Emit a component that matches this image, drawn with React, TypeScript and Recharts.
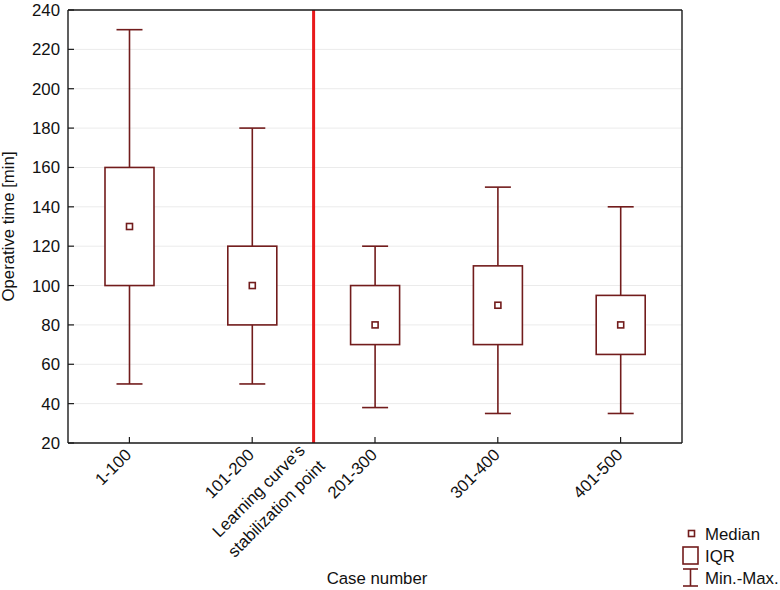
import React from "react"
import { ComposedChart, Bar, XAxis, YAxis, CartesianGrid, ReferenceLine } from "recharts"

// Operative time per block of 100 cases
const groups = ["1-100", "101-200", "201-300", "301-400", "401-500"]
const minimum = [50, 50, 38, 35, 35]
const lowerQuartile = [100, 80, 70, 70, 65]
const median = [130, 100, 80, 90, 80]
const upperQuartile = [160, 120, 100, 110, 95]
const maximum = [230, 180, 120, 150, 140]
const yTicks = [20, 40, 60, 80, 100, 120, 140, 160, 180, 200, 220, 240]
// the learning curve stabilises between the 2nd and 3rd block
const stabilizationPoint = 2.5
const stabilizationLabel = ["Learning curve's", "stabilization point"]

const data = groups.map((group, i) => ({
  group,
  pos: i + 1,
  min: minimum[i],
  q1: lowerQuartile[i],
  median: median[i],
  q3: upperQuartile[i],
  max: maximum[i],
}))

const BOX = "#721c1c"
const AXIS = "#1a1a1a"
const FONT = "'Liberation Sans', Arial, sans-serif"
const FS = 16.8

function BoxShape(props: any) {
  const { x, y, width, height, payload } = props
  const span = payload.max - payload.min
  const toY = (v: number) => y + (height * (payload.max - v)) / span
  const cx = x + width / 2
  const cap = 13
  return (
    <g stroke={BOX} strokeWidth={1.6} fill="none">
      <line x1={cx} x2={cx} y1={toY(payload.max)} y2={toY(payload.min)} />
      <line x1={cx - cap} x2={cx + cap} y1={toY(payload.max)} y2={toY(payload.max)} />
      <line x1={cx - cap} x2={cx + cap} y1={toY(payload.min)} y2={toY(payload.min)} />
      <rect x={x} y={toY(payload.q3)} width={width} height={toY(payload.q1) - toY(payload.q3)} fill="#fff" />
      <rect x={cx - 3} y={toY(payload.median) - 3} width={6} height={6} fill="#fff" />
    </g>
  )
}

function GroupTick(props: any) {
  const { x, y, payload } = props
  return (
    <text
      transform={`translate(${x + 3},${y + 13}) rotate(-45)`}
      textAnchor="end"
      fontSize={FS}
      fontFamily={FONT}
      fill="#111"
    >
      {payload.value}
    </text>
  )
}

function StabilizationLabel(props: any) {
  const { viewBox } = props
  const x = viewBox.x - 51
  const y = viewBox.y + viewBox.height + 52
  return (
    <text transform={`translate(${x},${y}) rotate(-45)`} textAnchor="middle" fontSize={FS} fontFamily={FONT} fill="#111">
      {stabilizationLabel.map((line, i) => (
        <tspan key={line} x={0} y={i * 25}>
          {line}
        </tspan>
      ))}
    </text>
  )
}

function Legend() {
  const text = { fontSize: FS, fontFamily: FONT, fill: "#111" }
  return (
    <svg width={780} height={590} style={{ position: "absolute", left: 0, top: 0, pointerEvents: "none" }}>
      <g stroke={BOX} strokeWidth={1.6} fill="none">
        <rect x={688.5} y={530.5} width={6} height={6} />
        <rect x={683} y={547} width={15} height={17} />
        <line x1={690.5} x2={690.5} y1={569} y2={586} />
        <line x1={683} x2={698} y1={569} y2={569} />
        <line x1={683} x2={698} y1={586} y2={586} />
      </g>
      <text x={705} y={539.5} {...text}>Median</text>
      <text x={705} y={561.5} {...text}>IQR</text>
      <text x={705} y={583.5} {...text}>Min.-Max.</text>
    </svg>
  )
}

export default function App() {
  return (
    <div style={{ position: "absolute", left: 0, top: 0, width: 780, height: 590 }}>
      <ComposedChart width={780} height={590} data={data} margin={{ top: 9, right: 97, left: 0, bottom: 0 }}>
        <CartesianGrid vertical={false} stroke="#ebebeb" />
        <XAxis
          dataKey="group"
          height={147}
          tickSize={-6}
          tickMargin={6}
          tick={<GroupTick />}
          interval={0}
          axisLine={{ stroke: AXIS, strokeWidth: 1.4 }}
          tickLine={{ stroke: AXIS, strokeWidth: 1.2 }}
          label={(p: any) => (
            <text
              x={p.viewBox.x + p.viewBox.width / 2 + 2}
              y={p.viewBox.y + 141}
              textAnchor="middle"
              fontSize={FS}
              fontFamily={FONT}
              fill="#111"
            >
              Case number
            </text>
          )}
        />
        <XAxis
          xAxisId="top"
          dataKey="group"
          orientation="top"
          height={1}
          tickSize={-6}
          tick={false}
          axisLine={{ stroke: AXIS, strokeWidth: 1.4 }}
          tickLine={{ stroke: AXIS, strokeWidth: 1.2 }}
        />
        <XAxis
          xAxisId="num"
          dataKey="pos"
          type="number"
          domain={[0.5, groups.length + 0.5]}
          allowDataOverflow
          hide
        />
        <YAxis
          type="number"
          domain={[20, 240]}
          ticks={yTicks}
          width={68}
          tickSize={-6}
          tickMargin={14}
          interval={0}
          tick={{ fontSize: FS, fontFamily: FONT, fill: "#111" }}
          axisLine={{ stroke: AXIS, strokeWidth: 1.4 }}
          tickLine={{ stroke: AXIS, strokeWidth: 1.2 }}
          label={(p: any) => (
            <text
              transform={`translate(${p.viewBox.x + 14},${p.viewBox.y + p.viewBox.height / 2}) rotate(-90)`}
              textAnchor="middle"
              fontSize={FS}
              fontFamily={FONT}
              fill="#111"
            >
              Operative time [min]
            </text>
          )}
        />
        <YAxis
          yAxisId="right"
          orientation="right"
          type="number"
          domain={[20, 240]}
          ticks={yTicks}
          width={1}
          tickSize={-6}
          tick={false}
          interval={0}
          axisLine={{ stroke: AXIS, strokeWidth: 1.4 }}
          tickLine={{ stroke: AXIS, strokeWidth: 1.2 }}
        />
        <Bar dataKey={(d: any) => [d.min, d.max]} barSize={49} shape={<BoxShape />} isAnimationActive={false} />
        <ReferenceLine
          xAxisId="num"
          x={stabilizationPoint}
          stroke="#e8191b"
          strokeWidth={3}
          label={<StabilizationLabel />}
        />
      </ComposedChart>
      <Legend />
    </div>
  )
}
